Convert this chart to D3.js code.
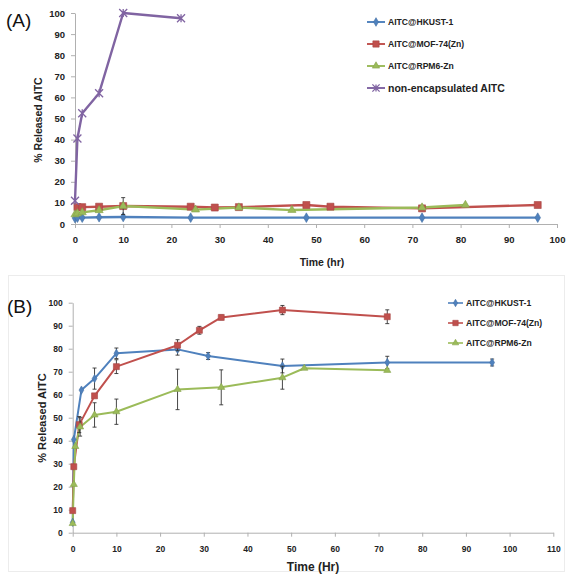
<!DOCTYPE html>
<html><head><meta charset="utf-8">
<script src="https://cdn.jsdelivr.net/npm/d3@7"></script>
<style>body{margin:0;background:#fff}svg{display:block}text{font-family:"Liberation Sans",Arial,sans-serif}</style>
</head><body>
<script>
// ---------- Panel A data ----------
const seriesNames = ["AITC@HKUST-1", "AITC@MOF-74(Zn)", "AITC@RPM6-Zn", "non-encapsulated AITC"];
const aHkustT = [0, 0.5, 1.5, 5, 10, 24, 48, 72, 96];
const aHkustV = [2.8, 3, 3, 3.2, 3.3, 3, 3, 3, 3];
const aMofT = [0.5, 1.5, 5, 10, 24, 29, 34, 48, 53, 72, 96];
const aMofV = [8, 8, 8.2, 8.5, 8.2, 7.8, 8, 9, 8.2, 7.4, 9];
const aRpmT = [0, 0.5, 1.5, 5, 10, 25, 34, 45, 72, 81];
const aRpmV = [4.5, 5, 5.5, 6.5, 8.5, 6.8, 7.8, 6.6, 7.8, 9];
const aRpmE = [0, 0, 0, 0, 4, 0, 0, 0, 0, 0];
const aFreeT = [0, 0.5, 1.5, 5, 10, 22];
const aFreeV = [11, 40.5, 52.5, 62, 100, 97.5];
const aXTicks = [0, 10, 20, 30, 40, 50, 60, 70, 80, 90, 100];
const aYTicks = [0, 10, 20, 30, 40, 50, 60, 70, 80, 90, 100];

// ---------- Panel B data ----------
const bHkustT = [0, 0.25, 2, 5, 10, 24, 31, 48, 72, 96];
const bHkustV = [4.5, 40.5, 62, 67, 78, 79.7, 76.8, 72.5, 74, 74];
const bHkustE = [0, 0, 0, 4.6, 2.3, 2.5, 1.5, 3, 2.7, 1.5];
const bMofT = [0, 0.25, 1.5, 5, 10, 24, 29, 34, 48, 72];
const bMofV = [9.6, 28.7, 47, 59.5, 72.2, 81.5, 88, 93.6, 96.8, 93.9];
const bMofE = [0, 0, 3.5, 0, 3, 2.4, 1.7, 1, 2, 3];
const bRpmT = [0, 0.25, 0.6, 1.7, 5, 10, 24, 34, 48, 53, 72];
const bRpmV = [4, 21, 37.5, 46, 51.2, 52.6, 62.3, 63.2, 67.4, 71.5, 70.6];
const bRpmE = [0, 0, 0, 4, 5.3, 5.5, 8.8, 7.6, 5, 0, 0];
const bXTicks = [0, 10, 20, 30, 40, 50, 60, 70, 80, 90, 100, 110];
const bYTicks = [0, 10, 20, 30, 40, 50, 60, 70, 80, 90, 100];

const colors = ["#4F81BD", "#C0504D", "#9BBB59", "#8064A2"];
const shapes = ["diamond", "square", "triangle", "cross"];

const svg = d3.select("body").append("svg").attr("width", 570).attr("height", 580);
svg.append("rect").attr("width", 570).attr("height", 580).attr("fill", "#fff");

function zip(T, V, E) { return T.map((t, i) => ({t, v: V[i], e: E ? E[i] : 0})); }

function marker(g, shape, x, y, size, color) {
  if (shape === "cross") {
    const s = size / 2;
    g.append("path").attr("d", `M${x - s},${y - s}L${x + s},${y + s}M${x - s},${y + s}L${x + s},${y - s}M${x},${y - s}L${x},${y + s}`)
      .attr("stroke", color).attr("stroke-width", 1.3).attr("fill", "none");
    return;
  }
  const sym = shape === "diamond" ? d3.symbolDiamond : shape === "square" ? d3.symbolSquare : d3.symbolTriangle;
  const area = shape === "diamond" ? size * size * 0.55 : shape === "square" ? size * size : size * size * 0.45;
  g.append("path").attr("d", d3.symbol().type(sym).size(area)()).attr("transform", `translate(${x},${y})`)
    .attr("fill", color).attr("stroke", d3.color(color).darker(0.4)).attr("stroke-width", 0.6);
}

function panel(cfg) {
  const g = svg.append("g");
  const x = d3.scaleLinear().domain([0, cfg.xmax]).range(cfg.xr);
  const y = d3.scaleLinear().domain([0, 100]).range(cfg.yr);
  // axes
  const xa = g.append("g").attr("transform", `translate(0,${cfg.yr[0]})`)
    .call(d3.axisBottom(x).tickValues(cfg.xTicks).tickSize(4).tickSizeOuter(0).tickPadding(cfg.xPad));
  const ya = g.append("g").attr("transform", `translate(${cfg.xr[0]},0)`)
    .call(d3.axisLeft(y).tickValues(cfg.yTicks).tickSize(4).tickSizeOuter(0).tickPadding(cfg.yPad));
  [xa, ya].forEach(a => {
    a.selectAll("path,line").attr("stroke", "#b0b0b0").attr("stroke-width", 1);
    a.selectAll("text").attr("fill", "#222").attr("font-weight", "bold").attr("font-size", cfg.tickFs).attr("font-family", "Liberation Sans, Arial, sans-serif");
  });
  // series
  cfg.series.forEach((s, k) => {
    const line = d3.line().x(d => x(d.t)).y(d => y(d.v));
    g.append("path").datum(s.data).attr("d", line).attr("fill", "none")
      .attr("stroke", s.color).attr("stroke-width", cfg.lw).attr("stroke-linejoin", "round");
  });
  cfg.series.forEach(s => {
    s.data.forEach(d => {
      if (d.e > 0) {
        const cx = x(d.t), y1 = y(d.v + d.e), y2 = y(d.v - d.e);
        g.append("path").attr("d", `M${cx},${y1}L${cx},${y2}M${cx - 2},${y1}L${cx + 2},${y1}M${cx - 2},${y2}L${cx + 2},${y2}`)
          .attr("stroke", "#333").attr("stroke-width", 0.9).attr("fill", "none");
      }
    });
    s.data.forEach(d => marker(g, s.shape, x(d.t), y(d.v), s.size, s.color));
  });
  // axis titles
  g.append("text").attr("x", cfg.xTitle[0]).attr("y", cfg.xTitle[1]).attr("text-anchor", "middle")
    .attr("font-weight", "bold").attr("font-size", cfg.titleFs).attr("fill", "#222").text(cfg.xLabel);
  g.append("text").attr("transform", `translate(${cfg.yTitle[0]},${cfg.yTitle[1]}) rotate(-90)`).attr("text-anchor", "middle")
    .attr("font-weight", "bold").attr("font-size", cfg.yTitleFs).attr("fill", "#222").text("% Released AITC");
  // panel letter
  g.append("text").attr("x", cfg.letter[0]).attr("y", cfg.letter[1]).attr("font-size", 19).attr("fill", "#111").text(cfg.letterText);
  // legend
  cfg.series.forEach((s, i) => {
    const ly = cfg.legend.y + i * cfg.legend.dy;
    g.append("line").attr("x1", cfg.legend.x).attr("x2", cfg.legend.x + cfg.legend.len).attr("y1", ly).attr("y2", ly)
      .attr("stroke", s.color).attr("stroke-width", cfg.lw * 0.8);
    marker(g, s.shape, cfg.legend.x + cfg.legend.len / 2, ly, s.size * 0.9, s.color);
    g.append("text").attr("x", cfg.legend.x + cfg.legend.len + 3).attr("y", ly).attr("dy", "0.35em")
      .attr("font-weight", "bold").attr("font-size", s.name === "non-encapsulated AITC" ? 10.5 : 8.6)
      .attr("fill", "#222").text(s.name);
  });
}

panel({
  xmax: 100, xr: [75, 557], yr: [224, 13], xTicks: aXTicks, yTicks: aYTicks,
  tickFs: 9.5, xPad: 8, yPad: 6, lw: 2.4, titleFs: 10.5, yTitleFs: 10.5,
  xLabel: "Time (hr)", xTitle: [322, 266], yTitle: [42, 120], letter: [6, 27], letterText: "(A)",
  legend: {x: 367, y: 22, dy: 22, len: 18},
  series: [
    {name: seriesNames[0], data: zip(aHkustT, aHkustV), color: colors[0], shape: shapes[0], size: 7},
    {name: seriesNames[1], data: zip(aMofT, aMofV), color: colors[1], shape: shapes[1], size: 7},
    {name: seriesNames[2], data: zip(aRpmT, aRpmV, aRpmE), color: colors[2], shape: shapes[2], size: 8},
    {name: seriesNames[3], data: zip(aFreeT, aFreeV), color: colors[3], shape: shapes[3], size: 8}
  ]
});

// faint frame around panel B
svg.append("rect").attr("x", 8.5).attr("y", 275.5).attr("width", 556).attr("height", 296)
  .attr("fill", "none").attr("stroke", "#ececec").attr("stroke-width", 1);

panel({
  xmax: 110, xr: [72.7, 553.3], yr: [532.7, 302.7], xTicks: bXTicks, yTicks: bYTicks,
  tickFs: 8.5, xPad: 9, yPad: 6, lw: 2, titleFs: 12, yTitleFs: 11,
  xLabel: "Time (Hr)", xTitle: [313, 571], yTitle: [46, 418], letter: [7, 313], letterText: "(B)",
  legend: {x: 448, y: 303, dy: 20, len: 15},
  series: [
    {name: seriesNames[0], data: zip(bHkustT, bHkustV, bHkustE), color: colors[0], shape: shapes[0], size: 6},
    {name: seriesNames[1], data: zip(bMofT, bMofV, bMofE), color: colors[1], shape: shapes[1], size: 6},
    {name: seriesNames[2], data: zip(bRpmT, bRpmV, bRpmE), color: colors[2], shape: shapes[2], size: 7}
  ]
});
</script>
</body></html>
